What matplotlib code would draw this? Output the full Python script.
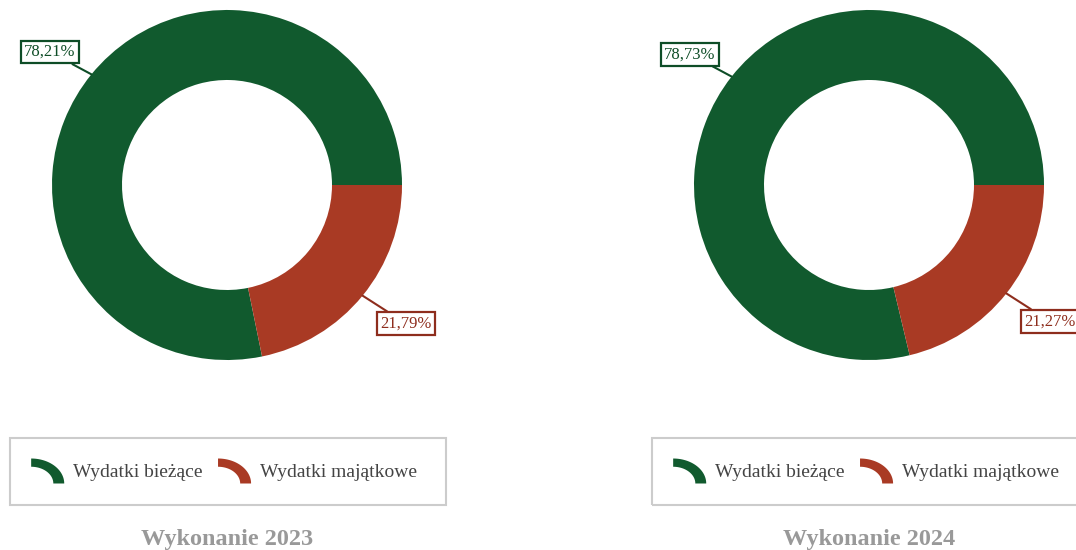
import numpy as np
import matplotlib
matplotlib.use("Agg")
import matplotlib.pyplot as plt
from matplotlib.patches import Rectangle, Polygon
from matplotlib.legend_handler import HandlerBase

# dane
categories = ["Wydatki bieżące", "Wydatki majątkowe"]
years = ["Wykonanie 2023", "Wykonanie 2024"]
values_2023 = [78.21, 21.79]
values_2024 = [78.73, 21.27]
colors = ["#115a2e", "#a93a24"]
label_colors = ["#0e4d27", "#8e2d1d"]

plt.rcParams["font.family"] = ["Liberation Serif", "DejaVu Serif"]

W, H = 1076, 550
fig = plt.figure(figsize=(W / 100, H / 100), dpi=100)


class ArcHandler(HandlerBase):
    # znacznik legendy w kształcie ćwiartki pierścienia
    def create_artists(self, legend, orig_handle, xdescent, ydescent,
                       width, height, fontsize, trans):
        x0, y0 = -xdescent, -ydescent
        tx, ty = 0.33 * width, 0.33 * height
        a = np.linspace(0, np.pi / 2, 40)
        outer = np.column_stack([x0 + width * np.cos(a), y0 + height * np.sin(a)])
        inner = np.column_stack([x0 + (width - tx) * np.cos(a[::-1]),
                                 y0 + (height - ty) * np.sin(a[::-1])])
        p = Polygon(np.vstack([outer, inner]), closed=True,
                    facecolor=orig_handle.get_facecolor(), edgecolor="none",
                    transform=trans)
        return [p]


def px(x, y):
    return x / W, 1 - y / H


def donut(cx, vals, title):
    r = 175
    ax = fig.add_axes([(cx - r) / W, (H - 185 - r) / H, 2 * r / W, 2 * r / H])
    wedges, _ = ax.pie(vals, colors=colors, startangle=0, radius=1,
                       wedgeprops=dict(width=0.4, edgecolor="none"))
    ax.set_xlim(-1, 1)
    ax.set_ylim(-1, 1)
    ax.set_aspect("equal")
    ax.axis("off")

    for i, wdg in enumerate(wedges):
        ang = np.deg2rad((wdg.theta1 + wdg.theta2) / 2)
        x, y = np.cos(ang), np.sin(ang)
        if x < 0:
            ha, va, off = "right", "bottom", (-11.4, 10.3)
        else:
            ha, va, off = "left", "top", (12.8, -14.3)
        lbl = f"{vals[i]:.2f}%".replace(".", ",")
        ax.annotate(lbl, xy=(x, y), xytext=off, textcoords="offset points",
                    ha=ha, va=va, fontsize=12, color=label_colors[i],
                    bbox=dict(boxstyle="square,pad=0.2", fc="white",
                              ec=label_colors[i], lw=1.6),
                    arrowprops=dict(arrowstyle="-", color=label_colors[i], lw=1.5,
                                    shrinkA=0, shrinkB=0),
                    annotation_clip=False)

    # ramka legendy
    fig.patches.append(Rectangle(px(cx - 217, 505), 436 / W, 67 / H,
                                 transform=fig.transFigure, fill=False,
                                 ec="#cccccc", lw=1.5))
    fig.legend(wedges, categories, loc="center", bbox_to_anchor=px(cx - 3, 471),
               ncol=2, frameon=False, fontsize=14, labelcolor="#444444",
               handler_map={type(wedges[0]): ArcHandler()},
               handlelength=1.7, handleheight=1.6, columnspacing=0.8,
               handletextpad=0.45)
    fig.text(*px(cx, 539), title, ha="center", va="center", fontsize=17.5,
             fontweight="bold", color="#999999")


donut(227, values_2023, years[0])
donut(869, values_2024, years[1])

fig.savefig("out.png", dpi=100)
